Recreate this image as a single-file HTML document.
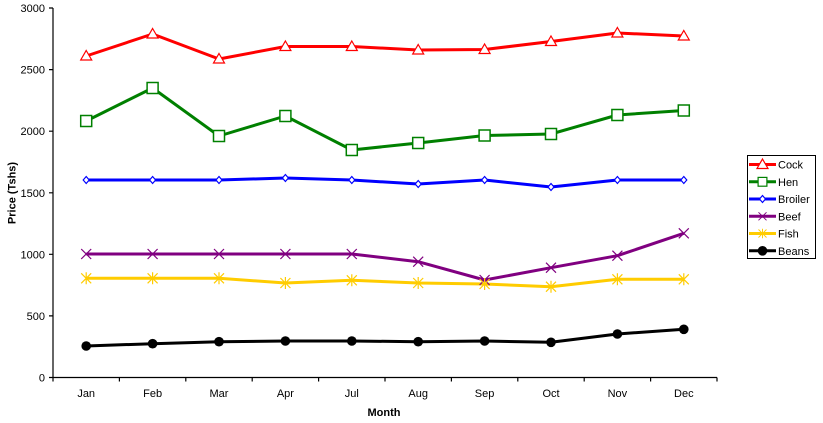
<!DOCTYPE html>
<html><head><meta charset="utf-8"><style>
html,body{margin:0;padding:0;background:#fff;}
svg{display:block;font-family:"Liberation Sans",Arial,sans-serif;}
</style></head><body>
<svg width="823" height="423" viewBox="0 0 823 423" xmlns="http://www.w3.org/2000/svg">
<defs>
<g id="tri"><polygon points="0,-5.5 5.5,4 -5.5,4" fill="#fff" stroke="#f00" stroke-width="1.2"/></g>
<g id="sq"><rect x="-5.5" y="-5.5" width="11" height="11" fill="#fff" stroke="#008000" stroke-width="1.5"/></g>
<g id="dia"><polygon points="0,-3.5 3,0 0,3.5 -3,0" fill="#fff" stroke="#00f" stroke-width="1.2"/></g>
<g id="xm"><path d="M-5,-5L5,5M-5,5L5,-5" stroke="#800080" stroke-width="1.2"/></g>
<g id="ast"><path d="M-5,-5L5,5M-5,5L5,-5M0,-6L0,6" stroke="#FFCC00" stroke-width="1.2"/></g>
<g id="cir"><circle r="4.8" fill="#000"/></g>
</defs>
<!-- axes -->
<g stroke="#000" stroke-width="1.2" fill="none">
<path d="M53,8 L53,377.5 L717,377.5"/>
<path d="M49,8H53M49,69.6H53M49,131.2H53M49,192.8H53M49,254.3H53M49,315.9H53M49,377.5H53"/>
<path d="M53,377.5V381.5M119.4,377.5V381.5M185.8,377.5V381.5M252.2,377.5V381.5M318.6,377.5V381.5M385,377.5V381.5M451.4,377.5V381.5M517.8,377.5V381.5M584.2,377.5V381.5M650.6,377.5V381.5M717,377.5V381.5"/>
</g>
<g font-size="11" text-anchor="end" fill="#000">
<text x="45" y="12">3000</text>
<text x="45" y="73.6">2500</text>
<text x="45" y="135.2">2000</text>
<text x="45" y="196.8">1500</text>
<text x="45" y="258.3">1000</text>
<text x="45" y="319.9">500</text>
<text x="45" y="381.5">0</text>
</g>
<g font-size="11" text-anchor="middle" fill="#000">
<text x="86.2" y="397">Jan</text>
<text x="152.6" y="397">Feb</text>
<text x="219" y="397">Mar</text>
<text x="285.4" y="397">Apr</text>
<text x="351.8" y="397">Jul</text>
<text x="418.2" y="397">Aug</text>
<text x="484.6" y="397">Sep</text>
<text x="551" y="397">Oct</text>
<text x="617.4" y="397">Nov</text>
<text x="683.8" y="397">Dec</text>
</g>
<text x="384" y="416" font-size="11" font-weight="bold" text-anchor="middle">Month</text>
<text transform="translate(15.5,193) rotate(-90)" font-size="11" font-weight="bold" text-anchor="middle">Price (Tshs)</text>
<!-- series -->
<g fill="none" stroke-width="3" stroke-linejoin="round">
<polyline stroke="#f00" points="86.2,56 152.6,34 219,59 285.4,46.5 351.8,46.5 418.2,50 484.6,49.5 551,41.5 617.4,33 683.8,36"/>
<polyline stroke="#008000" points="86.2,121 152.6,88 219,136 285.4,116 351.8,150 418.2,143 484.6,135.5 551,134 617.4,115 683.8,110.5"/>
<polyline stroke="#00f" points="86.2,180 152.6,180 219,180 285.4,178 351.8,180 418.2,184 484.6,180 551,187 617.4,180 683.8,180"/>
<polyline stroke="#800080" points="86.2,254 152.6,254 219,254 285.4,254 351.8,254 418.2,261.7 484.6,280 551,267.7 617.4,255.7 683.8,233.3"/>
<polyline stroke="#FFCC00" points="86.2,278.3 152.6,278.3 219,278.3 285.4,283 351.8,280.3 418.2,283 484.6,284 551,286.7 617.4,279.3 683.8,279.3"/>
<polyline stroke="#000" points="86.2,346 152.6,343.7 219,341.7 285.4,341 351.8,341 418.2,341.7 484.6,341 551,342.3 617.4,334 683.8,329.3"/>
</g>
<g>
<use href="#tri" x="86.2" y="56"/><use href="#tri" x="152.6" y="34"/><use href="#tri" x="219" y="59"/><use href="#tri" x="285.4" y="46.5"/><use href="#tri" x="351.8" y="46.5"/><use href="#tri" x="418.2" y="50"/><use href="#tri" x="484.6" y="49.5"/><use href="#tri" x="551" y="41.5"/><use href="#tri" x="617.4" y="33"/><use href="#tri" x="683.8" y="36"/>
<use href="#sq" x="86.2" y="121"/><use href="#sq" x="152.6" y="88"/><use href="#sq" x="219" y="136"/><use href="#sq" x="285.4" y="116"/><use href="#sq" x="351.8" y="150"/><use href="#sq" x="418.2" y="143"/><use href="#sq" x="484.6" y="135.5"/><use href="#sq" x="551" y="134"/><use href="#sq" x="617.4" y="115"/><use href="#sq" x="683.8" y="110.5"/>
<use href="#dia" x="86.2" y="180"/><use href="#dia" x="152.6" y="180"/><use href="#dia" x="219" y="180"/><use href="#dia" x="285.4" y="178"/><use href="#dia" x="351.8" y="180"/><use href="#dia" x="418.2" y="184"/><use href="#dia" x="484.6" y="180"/><use href="#dia" x="551" y="187"/><use href="#dia" x="617.4" y="180"/><use href="#dia" x="683.8" y="180"/>
<use href="#xm" x="86.2" y="254"/><use href="#xm" x="152.6" y="254"/><use href="#xm" x="219" y="254"/><use href="#xm" x="285.4" y="254"/><use href="#xm" x="351.8" y="254"/><use href="#xm" x="418.2" y="261.7"/><use href="#xm" x="484.6" y="280"/><use href="#xm" x="551" y="267.7"/><use href="#xm" x="617.4" y="255.7"/><use href="#xm" x="683.8" y="233.3"/>
<use href="#ast" x="86.2" y="278.3"/><use href="#ast" x="152.6" y="278.3"/><use href="#ast" x="219" y="278.3"/><use href="#ast" x="285.4" y="283"/><use href="#ast" x="351.8" y="280.3"/><use href="#ast" x="418.2" y="283"/><use href="#ast" x="484.6" y="284"/><use href="#ast" x="551" y="286.7"/><use href="#ast" x="617.4" y="279.3"/><use href="#ast" x="683.8" y="279.3"/>
<use href="#cir" x="86.2" y="346"/><use href="#cir" x="152.6" y="343.7"/><use href="#cir" x="219" y="341.7"/><use href="#cir" x="285.4" y="341"/><use href="#cir" x="351.8" y="341"/><use href="#cir" x="418.2" y="341.7"/><use href="#cir" x="484.6" y="341"/><use href="#cir" x="551" y="342.3"/><use href="#cir" x="617.4" y="334"/><use href="#cir" x="683.8" y="329.3"/>
</g>
<!-- legend -->
<rect x="747.5" y="155.5" width="68" height="103" fill="#fff" stroke="#000" stroke-width="1"/>
<g stroke-width="3">
<line x1="749" y1="164.5" x2="776" y2="164.5" stroke="#f00"/>
<line x1="749" y1="181.8" x2="776" y2="181.8" stroke="#008000"/>
<line x1="749" y1="199" x2="776" y2="199" stroke="#00f"/>
<line x1="749" y1="216.3" x2="776" y2="216.3" stroke="#800080"/>
<line x1="749" y1="233.5" x2="776" y2="233.5" stroke="#FFCC00"/>
<line x1="749" y1="250.8" x2="776" y2="250.8" stroke="#000"/>
</g>
<use href="#tri" x="762.5" y="164.5"/>
<g transform="translate(762.5,181.8) scale(0.8)"><use href="#sq"/></g>
<use href="#dia" x="762.5" y="199"/>
<g transform="translate(762.5,216.3) scale(0.8)"><use href="#xm"/></g>
<g transform="translate(762.5,233.5) scale(0.8)"><use href="#ast"/></g>
<use href="#cir" x="762.5" y="250.8"/>
<g font-size="11" fill="#000">
<text x="778" y="168.5">Cock</text>
<text x="778" y="185.8">Hen</text>
<text x="778" y="203">Broiler</text>
<text x="778" y="220.3">Beef</text>
<text x="778" y="237.5">Fish</text>
<text x="778" y="254.8">Beans</text>
</g>
</svg>
</body></html>
